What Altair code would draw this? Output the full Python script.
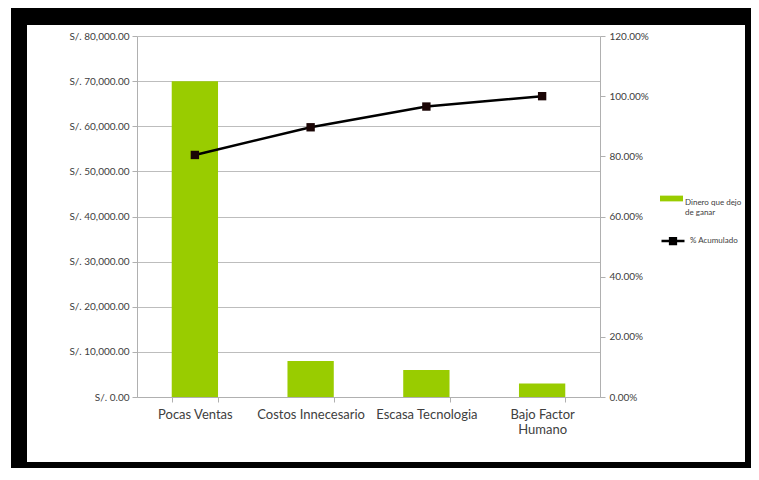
import altair as alt
import pandas as pd

categorias = ["Pocas Ventas", "Costos Innecesario", "Escasa Tecnologia", "Bajo Factor Humano"]
dinero = [70000, 8000, 6000, 3000]
acumulado = [0.8046, 0.8966, 0.9655, 1.0]
ticks_soles = [0, 10000, 20000, 30000, 40000, 50000, 60000, 70000, 80000]
ticks_pct = [0, 0.2, 0.4, 0.6, 0.8, 1.0, 1.2]
serie_barra = "Dinero que dejo de ganar"
serie_linea = "% Acumulado"

df = pd.DataFrame({
    "categoria": categorias,
    "dinero": dinero,
    "acumulado": acumulado,
    "serie_barra": serie_barra,
    "serie_linea": serie_linea,
})

FONT = "Lato"
LABEL = "#404040"
GRID = "#bdbdbd"

x_enc = alt.X(
    "categoria:N",
    sort=categorias,
    scale=alt.Scale(paddingInner=0.6, paddingOuter=0.3),
    axis=alt.Axis(
        title=None, labelAngle=0, labelFontSize=13, labelColor=LABEL, labelFont=FONT,
        labelExpr="datum.label == 'Bajo Factor Humano' ? ['Bajo Factor', 'Humano'] : datum.label",
        tickBand="extent", tickSize=5, tickColor="#b0b0b0", domainColor="#b0b0b0",
        labelPadding=6, labelLimit=200, grid=False,
    ),
)

base = alt.Chart(df)

bars = base.mark_bar().encode(
    x=x_enc,
    y=alt.Y(
        "dinero:Q",
        scale=alt.Scale(domain=[0, 80000], nice=False),
        axis=alt.Axis(
            title=None, values=ticks_soles,
            labelExpr="'S/. ' + format(datum.value, ',.2f')",
            labelFontSize=10, labelColor=LABEL, labelFont=FONT, labelPadding=3,
            grid=True, gridColor=GRID, domainColor="#b0b0b0", tickColor="#b0b0b0", tickSize=5,
        ),
    ),
    color=alt.Color(
        "serie_barra:N",
        scale=alt.Scale(domain=[serie_barra], range=["#99cc00"]),
        legend=alt.Legend(
            title=None, orient="none", legendX=523, legendY=151,
            symbolType="M-1,-0.25H1V0.25H-1Z", symbolSize=529, symbolStrokeWidth=0,
            labelFontSize=8, labelColor=LABEL, labelFont=FONT, labelBaseline="top", labelOffset=2,
            labelExpr="['Dinero que dejo', 'de ganar']", labelLimit=200,
        ),
    ),
)

line = base.mark_line(strokeWidth=2.5).encode(
    x=x_enc,
    y=alt.Y(
        "acumulado:Q",
        scale=alt.Scale(domain=[0, 1.2], nice=False),
        axis=alt.Axis(
            title=None, orient="right", values=ticks_pct, format=".2%",
            labelFontSize=10, labelColor=LABEL, labelFont=FONT, labelPadding=4,
            grid=False, domainColor="#b0b0b0", tickColor="#b0b0b0", tickSize=5,
        ),
    ),
    stroke=alt.Stroke(
        "serie_linea:N",
        scale=alt.Scale(domain=[serie_linea], range=["#000000"]),
        legend=alt.Legend(
            title=None, orient="none", legendX=523, legendY=192,
            symbolType="M-1,0H1M-0.25,-0.25H0.25V0.25H-0.25Z", symbolSize=529,
            symbolStrokeWidth=2.5, symbolFillColor="#1a0505",
            labelFontSize=8, labelColor=LABEL, labelFont=FONT, labelLimit=200,
        ),
    ),
)

points = base.mark_point(shape="square", filled=True, size=70, color="#1a0505", opacity=1).encode(
    x=x_enc,
    y=alt.Y("acumulado:Q", scale=alt.Scale(domain=[0, 1.2], nice=False), axis=None),
)

def frame(x1, x2, y1, y2):
    return alt.Chart(df).mark_rect(color="#000000").encode(
        x=alt.value(x1), x2=alt.value(x2), y=alt.value(y1), y2=alt.value(y2)
    ).transform_filter(alt.datum.categoria == categorias[0])

frames = [
    frame(-126, 614, -28, -11),
    frame(-126, -110, -28, 432),
    frame(608, 614, -28, 432),
    frame(-126, 614, 426, 432),
]

chart = alt.layer(bars, line, points, *frames).resolve_scale(y="independent").properties(
    width=463, height=361,
    autosize=alt.AutoSizeParams(type="none"),
    padding={"left": 129, "top": 28, "right": 151, "bottom": 71},
    background="white",
).configure_view(stroke=None).configure_axis(labelFont=FONT)

chart.save("out.html", embed_options={"renderer": "svg", "actions": False})
